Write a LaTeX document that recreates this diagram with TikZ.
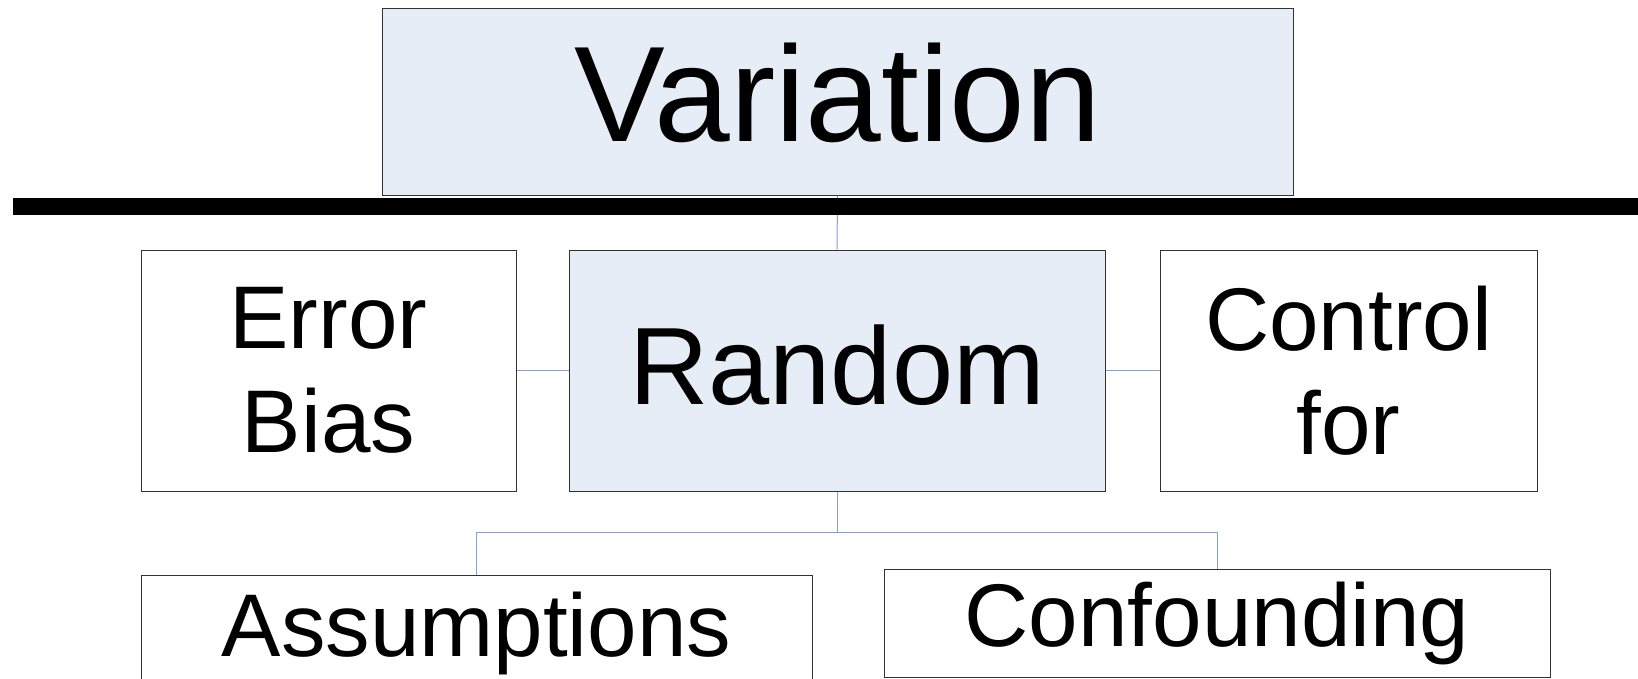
\documentclass[tikz,border=0pt]{standalone}
\usepackage{fontspec}
\setmainfont{Liberation Sans}
\definecolor{boxfill}{RGB}{230,237,247}
\definecolor{connblue}{RGB}{128,160,214}
\definecolor{boxline}{RGB}{50,50,50}
\begin{document}
\begin{tikzpicture}[x=1pt,y=-1pt,
  box/.style={draw=boxline,line width=1pt,rectangle,inner sep=0pt,align=center},
  hl/.style={box,fill=boxfill},
  conn/.style={draw=connblue,line width=1pt},
  big/.style={font=\fontsize{136}{160}\selectfont},
  mid/.style={font=\fontsize{110}{130}\selectfont},
  small/.style={font=\fontsize{89}{104}\selectfont}]
\useasboundingbox (0,0) rectangle (1638,678);
\clip (0,0) rectangle (1638,678);
\node[hl,big,minimum width=911pt,minimum height=187pt,text height=97pt,text depth=17pt] (var) at (837.5,101.5) {Variation};
\node[hl,mid,minimum width=536pt,minimum height=241pt,text height=80pt,text depth=12pt] (ran) at (837,370.5) {Random};
\node[box,small,minimum width=375pt,minimum height=241pt] (err) at (328.5,370.5) {Error\\Bias};
\node[box,small,minimum width=377pt,minimum height=241pt] (ctl) at (1348.5,370.5) {Control\\for};
\node[box,small,minimum width=671pt,minimum height=117pt] (ass) at (476.5,633.5) {Assumptions};
\node[box,small,minimum width=666pt,minimum height=108pt] (con) at (1217,623) {Confounding};
\coordinate (split) at (837,532);
\draw[conn] (var.south) -- (ran.north);
\draw[conn] (err.east) -- (ran.west);
\draw[conn] (ran.east) -- (ctl.west);
\draw[conn] (ran.south) -- (split) -| (ass.north);
\draw[conn] (split) -| (con.north);
\fill[black] (13,198) rectangle (1638,215);
\end{tikzpicture}
\end{document}
